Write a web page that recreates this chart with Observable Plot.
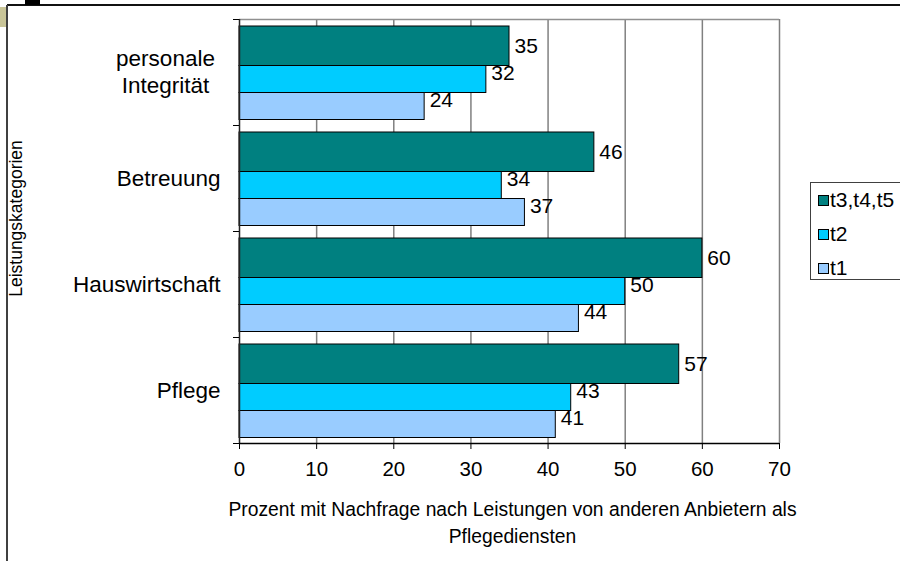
<!DOCTYPE html>
<html>
<head>
<meta charset="utf-8">
<script src="https://cdn.jsdelivr.net/npm/d3@7"></script>
<script src="https://cdn.jsdelivr.net/npm/@observablehq/plot@0.6"></script>
<style>
  body { margin: 0; background: #fff; font-family: "Liberation Sans", Arial, sans-serif; }
  #chart { position: relative; width: 900px; height: 561px; overflow: hidden; background: #fff; }
  #chart svg { position: absolute; left: 0; top: 0; }
  .deco { position: absolute; }
  .legend {
    position: absolute; left: 810px; top: 182px; width: 110px; height: 98px;
    border: 1px solid #404040; background: #fff; box-sizing: border-box;
    font-size: 21px; color: #000;
  }
  .legend .item { position: absolute; left: 7px; height: 22px; display: flex; align-items: center; white-space: nowrap; }
  .legend .sw { width: 9px; height: 9px; border: 1px solid #000; margin-right: 1px; }
</style>
</head>
<body>
<div id="chart">
  <div class="deco" style="left:7px;top:4px;width:893px;height:2px;background:#111"></div>
  <div class="deco" style="left:6px;top:5px;width:2px;height:556px;background:#404040"></div>
  <div class="deco" style="left:0;top:7px;width:6px;height:20px;background:#c9c598"></div>
  <div class="deco" style="left:25px;top:0;width:15px;height:5px;background:#000"></div>
</div>
<script>
// Leistungskategorien, top to bottom
const categories = ["personale\nIntegrität", "Betreuung", "Hauswirtschaft", "Pflege"];
// Erhebungszeitpunkte (legend order)
const seriesNames = ["t3,t4,t5", "t2", "t1"];
// Prozentwerte je Kategorie
const valuesT345 = [35, 46, 60, 57];
const valuesT2 = [32, 34, 50, 43];
const valuesT1 = [24, 37, 44, 41];
const xTicks = [0, 10, 20, 30, 40, 50, 60, 70];
const xTitle = "Prozent mit Nachfrage nach Leistungen von anderen Anbietern als\nPflegediensten";
const yTitle = "Leistungskategorien";

const colors = ["#008080", "#00ccff", "#99ccff"];
// slice of each category band taken by a series (fractions of the band)
const slots = [[7 / 106, 46.5 / 106], [46.5 / 106, 73.5 / 106], [73.5 / 106, 100.5 / 106]];
const labelShift = [0, -6, -6];

const rows = [];
[valuesT345, valuesT2, valuesT1].forEach((vals, s) =>
  vals.forEach((v, i) => rows.push({cat: i, s, series: seriesNames[s], value: v}))
);

const font = "Liberation Sans, Arial, sans-serif";

const plot = Plot.plot({
  width: 900,
  height: 561,
  marginLeft: 239,
  marginRight: 121,
  marginTop: 19,
  marginBottom: 118,
  style: {fontFamily: font, fontSize: "20px", color: "#000", background: "transparent", overflow: "visible"},
  x: {domain: [0, 70], axis: null},
  y: {domain: [0, categories.length], reverse: true, axis: null},
  color: {domain: seriesNames, range: colors},
  marks: [
    // vertical grid lines and plot border
    Plot.ruleX(xTicks.slice(1), {stroke: "#808080", strokeWidth: 1.5}),
    Plot.ruleY([0], {stroke: "#909090", strokeWidth: 1.5}),
    // bars
    Plot.rect(rows, {
      x1: 0,
      x2: "value",
      y1: d => d.cat + slots[d.s][0],
      y2: d => d.cat + slots[d.s][1],
      fill: "series",
      stroke: "#000",
      strokeWidth: 1
    }),
    // value labels
    ...seriesNames.map((name, s) =>
      Plot.text(rows.filter(r => r.s === s), {
        x: "value",
        y: d => d.cat + (slots[s][0] + slots[s][1]) / 2,
        text: d => String(d.value),
        textAnchor: "start",
        dx: 5,
        dy: labelShift[s],
        fontSize: 21,
        fill: "#000"
      })
    ),
    // axes
    Plot.ruleX([0], {stroke: "#222", strokeWidth: 1.5}),
    Plot.ruleY([categories.length], {stroke: "#000", strokeWidth: 1.5}),
    Plot.axisX(xTicks, {anchor: "bottom", tickSize: 6, tickPadding: 12, fontSize: 20.5, label: null, stroke: "#000"}),
    Plot.axisY(d3.range(categories.length + 1), {anchor: "left", tickSize: 6, tickFormat: () => "", label: null, stroke: "#000"}),
    // category labels
    Plot.text(categories.filter(c => !c.includes("\n")), {
      x: 0,
      y: c => categories.indexOf(c) + 0.5,
      text: c => c,
      textAnchor: "end",
      dx: -19,
      fontSize: 22.5,
      fill: "#000"
    }),
    Plot.text(categories.filter(c => c.includes("\n")), {
      x: 0,
      y: c => categories.indexOf(c) + 0.5,
      text: c => c,
      textAnchor: "middle",
      lineHeight: 1.2,
      dx: -74,
      dy: -2,
      fontSize: 22.5,
      fill: "#000"
    }),
    // axis titles
    Plot.text([xTitle], {
      frameAnchor: "bottom",
      lineAnchor: "middle",
      lineHeight: 1.42,
      dx: 3,
      dy: 77.5,
      fontSize: 19.3,
      fill: "#000"
    }),
    Plot.text([yTitle], {
      frameAnchor: "left",
      textAnchor: "middle",
      rotate: -90,
      dx: -223,
      dy: -13,
      fontSize: 17.5,
      fill: "#000"
    })
  ]
});

const chart = document.getElementById("chart");
chart.prepend(plot);

// legend
const legend = document.createElement("div");
legend.className = "legend";
const centers = [17, 51, 85];
seriesNames.forEach((name, s) => {
  const item = document.createElement("div");
  item.className = "item";
  item.style.top = (centers[s] - 11) + "px";
  const sw = document.createElement("div");
  sw.className = "sw";
  sw.style.background = colors[s];
  const label = document.createElement("span");
  label.textContent = name;
  item.append(sw, label);
  legend.append(item);
});
chart.append(legend);
</script>
</body>
</html>
